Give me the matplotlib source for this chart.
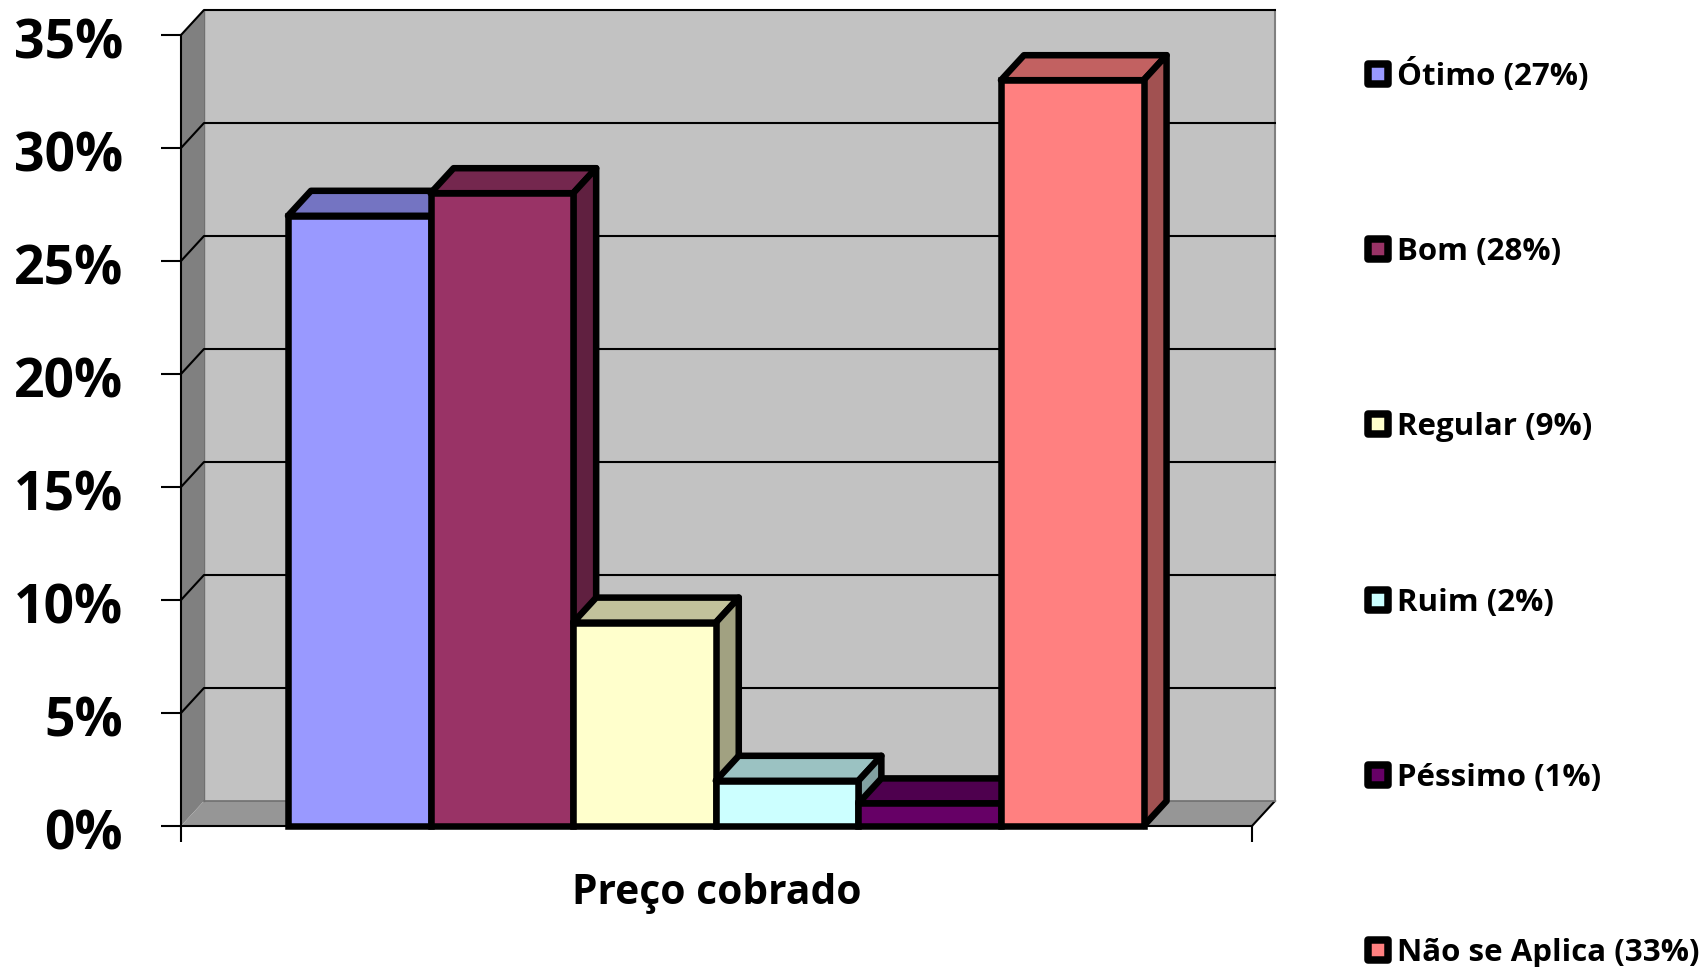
import matplotlib
matplotlib.use('Agg')
import matplotlib.pyplot as plt
from matplotlib.lines import Line2D
from matplotlib.markers import MarkerStyle
from matplotlib.ticker import PercentFormatter
from matplotlib.transforms import ScaledTranslation

categories = ['Ótimo', 'Bom', 'Regular', 'Ruim', 'Péssimo', 'Não se Aplica']
values = [27, 28, 9, 2, 1, 33]
colors = ['#9999FF', '#993366', '#FFFFCC', '#CCFFFF', '#660066', '#FF8080']
y_ticks = [0, 5, 10, 15, 20, 25, 30, 35]
x_label = 'Preço cobrado'

W, H = 1705, 967
plt.rcParams['font.family'] = ['Open Sans', 'DejaVu Sans']
plt.rcParams['font.weight'] = 'bold'


def shade(color, factor):
    rgb = matplotlib.colors.to_rgb(color)
    return tuple(c * factor for c in rgb)


fig = plt.figure(figsize=(W / 100, H / 100), dpi=100)
ax = fig.add_axes([181 / W, 1 - 826 / H, (1252 - 181) / W, (826 - 35) / H])
ax.set_xlim(-1.2504, 6.2602)
ax.set_ylim(0, 35)

# depth of the fake 3d box in data units
dx = 0.161
dy = 1.106
x0, x1 = ax.get_xlim()
edge = 4.7

# walls and floor
ax.fill([x0, x0 + dx, x0 + dx, x0], [0, dy, 35 + dy, 35], color='#808080', lw=0, clip_on=False, zorder=1)
ax.fill([x0 + dx, x1 + dx, x1 + dx, x0 + dx], [dy, dy, 35 + dy, 35 + dy], color='#C2C2C2', lw=0, clip_on=False, zorder=1)
ax.fill([x0, x1, x1 + dx, x0 + dx], [0, 0, dy, dy], color='#969696', lw=0, clip_on=False, zorder=1)
ax.plot([x1, x1 + dx], [0, dy], color='black', lw=1.5, clip_on=False, zorder=2)
ax.plot([x1 + dx, x1 + dx], [dy, 35 + dy], color='#808080', lw=1.5, clip_on=False, zorder=2)
ax.plot([x0 + dx, x1 + dx], [dy, dy], color='#707070', lw=1.2, clip_on=False, zorder=2)
ax.plot([x0 + dx, x0 + dx], [dy, 35 + dy], color='#707070', lw=1, clip_on=False, zorder=2)

# gridlines
for t in y_ticks[1:]:
    ax.plot([x0, x0 + dx, x1 + dx], [t, t + dy, t + dy], color='black', lw=1.5, clip_on=False, zorder=2)

# bars, painted left to right
for i, v in enumerate(values):
    z = 3 + i
    l, r = i - 0.5, i + 0.5
    ax.fill([l, r, r + dx, l + dx], [v, v, v + dy, v + dy], facecolor=shade(colors[i], 0.76),
            edgecolor='black', lw=edge, joinstyle='round', clip_on=False, zorder=z)
    ax.fill([r, r + dx, r + dx, r], [0, dy, v + dy, v], facecolor=shade(colors[i], 0.63),
            edgecolor='black', lw=edge, joinstyle='round', clip_on=False, zorder=z)
    ax.bar(i, v, width=1, color=colors[i], edgecolor='black', linewidth=edge, clip_on=False, zorder=z)

# axes
for s in ['top', 'right']:
    ax.spines[s].set_visible(False)
for s in ['left', 'bottom']:
    ax.spines[s].set_linewidth(1.5)
    ax.spines[s].set_zorder(2.5)
ax.set_yticks(y_ticks)
ax.yaxis.set_major_formatter(PercentFormatter(decimals=0))
ax.tick_params(axis='y', length=14.4, width=1.5, pad=27.5, labelsize=38.5)
for label in ax.get_yticklabels():
    label.set_transform(label.get_transform() + ScaledTranslation(0, -3 / 100, fig.dpi_scale_trans))
ax.set_xticks([x0, x1])
ax.set_xticklabels(['', ''])
ax.tick_params(axis='x', length=11.5, width=1.5)
ax.set_xlabel(x_label, fontsize=29.3, fontweight='bold', labelpad=19)

# legend
handles = []
for name, v, c in zip(categories, values, colors):
    handles.append(Line2D([], [], linestyle='none',
                          marker=MarkerStyle('s', joinstyle='round'), markersize=14,
                          markerfacecolor=c, markeredgecolor='black', markeredgewidth=5.4,
                          label=f'{name} ({v}%)'))
leg = fig.legend(handles=handles, loc='upper left', bbox_to_anchor=(1362 / W, 1 - 58 / H),
                 frameon=False, fontsize=22.5, handlelength=1.0, handletextpad=0.11,
                 labelspacing=4.646, borderpad=0, borderaxespad=0)

fig.savefig('out.png', dpi=100)
